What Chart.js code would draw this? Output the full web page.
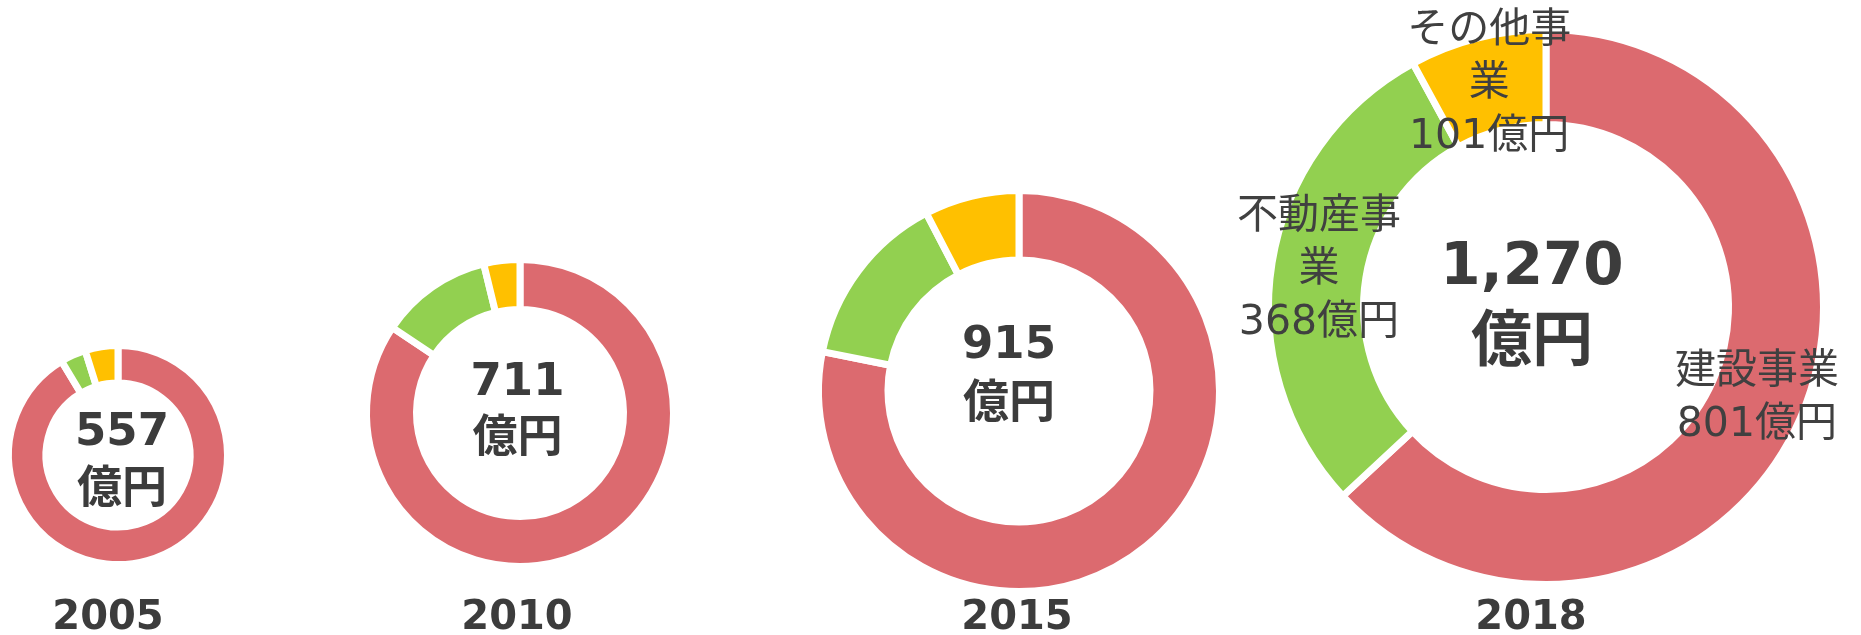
<!DOCTYPE html>
<html>
<head>
<meta charset="utf-8">
<script src="https://cdn.jsdelivr.net/npm/chart.js@4/dist/chart.umd.min.js"></script>
<style>
  html, body { margin: 0; padding: 0; background: #fff; }
  #wrap { position: relative; width: 1861px; height: 635px; overflow: hidden; }
  #wrap canvas { position: absolute; }
  .year {
    position: absolute; width: 200px; text-align: center;
    font: bold 40px "DejaVu Sans", sans-serif; line-height: 40px; color: #3c3c3c;
  }
</style>
</head>
<body>
<div id="wrap"></div>
<script>
// data (億円)
const years = ["2005", "2010", "2015", "2018"];
const segmentNames = ["建設事業", "不動産事業", "その他事業"];
const totals = [557, 711, 915, 1270];
const construction = [509, 600, 715, 801];
const realEstate = [21, 84, 130, 368];
const others = [27, 27, 70, 101];
const unit = "億円";

const colors = ["#dc6a6f", "#92d050", "#ffc000"];
const textColor = "#3c3c3c";
const gapWidth = 7;

// where each donut sits on the page
const layout = [
  { cx: 118, cy: 455, outer: 106, inner: 75.5, yearX: 108, dx: 4, dy: 7, gap: 58, numSize: 45, unitSize: 45, showLabels: false },
  { cx: 519.5, cy: 413, outer: 150, inner: 107, yearX: 517, dx: -2.5, dy: -1.5, gap: 57, numSize: 45, unitSize: 45, showLabels: false },
  { cx: 1019, cy: 391, outer: 197, inner: 134.5, yearX: 1017, dx: -10, dy: -15.5, gap: 59, numSize: 45, unitSize: 46, showLabels: false },
  { cx: 1546, cy: 307, outer: 274, inner: 186, yearX: 1531, dx: -14, dy: 0, gap: 77, numSize: 58, unitSize: 61, showLabels: true }
];
const yearY = 595;

const fontStack = '"DejaVu Sans", "Noto Sans CJK JP", sans-serif';

// total in the hole
const centerText = {
  id: "centerText",
  afterDraw(chart, args, opts) {
    const arc = chart.getDatasetMeta(0).data[0];
    const ctx = chart.ctx;
    const x = arc.x + opts.dx;
    const y = arc.y + opts.dy;
    ctx.save();
    ctx.fillStyle = textColor;
    ctx.textAlign = "center";
    ctx.textBaseline = "middle";
    ctx.font = "bold " + opts.numSize + "px " + fontStack;
    ctx.fillText(opts.total.toLocaleString("en-US"), x, y - opts.gap / 2);
    ctx.font = "bold " + opts.unitSize + "px " + fontStack;
    ctx.fillText(unit, x, y + opts.gap / 2);
    ctx.restore();
  }
};

// name + value on each slice (only the 2018 ring has them)
const sliceLabels = {
  id: "sliceLabels",
  afterDraw(chart, args, opts) {
    if (!opts.show) return;
    const ctx = chart.ctx;
    const meta = chart.getDatasetMeta(0);
    const values = chart.data.datasets[0].data;
    ctx.save();
    ctx.fillStyle = "#404040";
    ctx.textAlign = "center";
    ctx.textBaseline = "middle";
    ctx.font = "41px " + fontStack;
    meta.data.forEach((arc, i) => {
      const name = chart.data.labels[i];
      const lines = [];
      for (let k = 0; k < name.length; k += 4) lines.push(name.slice(k, k + 4));
      lines.push(values[i] + unit);
      const p = arc.tooltipPosition();
      const lh = 53;
      const top = p.y - (lines.length - 1) * lh / 2;
      lines.forEach((t, j) => ctx.fillText(t, p.x, top + j * lh));
    });
    ctx.restore();
  }
};

const wrap = document.getElementById("wrap");

years.forEach((year, i) => {
  const L = layout[i];
  const size = Math.round(2 * L.outer + 100);
  const canvas = document.createElement("canvas");
  canvas.width = size;
  canvas.height = size;
  canvas.style.left = (L.cx - size / 2) + "px";
  canvas.style.top = (L.cy - size / 2) + "px";
  wrap.appendChild(canvas);

  const radius = L.outer + gapWidth / 2;
  const cut = (L.inner - gapWidth / 2) / radius * 100;

  new Chart(canvas, {
    type: "doughnut",
    data: {
      labels: segmentNames,
      datasets: [{
        data: [construction[i], realEstate[i], others[i]],
        backgroundColor: colors,
        borderColor: "#ffffff",
        borderWidth: gapWidth,
        radius: radius,
        cutout: cut + "%",
        hoverOffset: 0
      }]
    },
    options: {
      responsive: false,
      animation: false,
      events: [],
      layout: { padding: 0 },
      plugins: {
        legend: { display: false },
        tooltip: { enabled: false },
        centerText: { total: totals[i], dx: L.dx, dy: L.dy, gap: L.gap, numSize: L.numSize, unitSize: L.unitSize },
        sliceLabels: { show: L.showLabels }
      }
    },
    plugins: [centerText, sliceLabels]
  });

  const label = document.createElement("div");
  label.className = "year";
  label.textContent = year;
  label.style.left = (L.yearX - 100) + "px";
  label.style.top = yearY + "px";
  wrap.appendChild(label);
});
</script>
</body>
</html>
